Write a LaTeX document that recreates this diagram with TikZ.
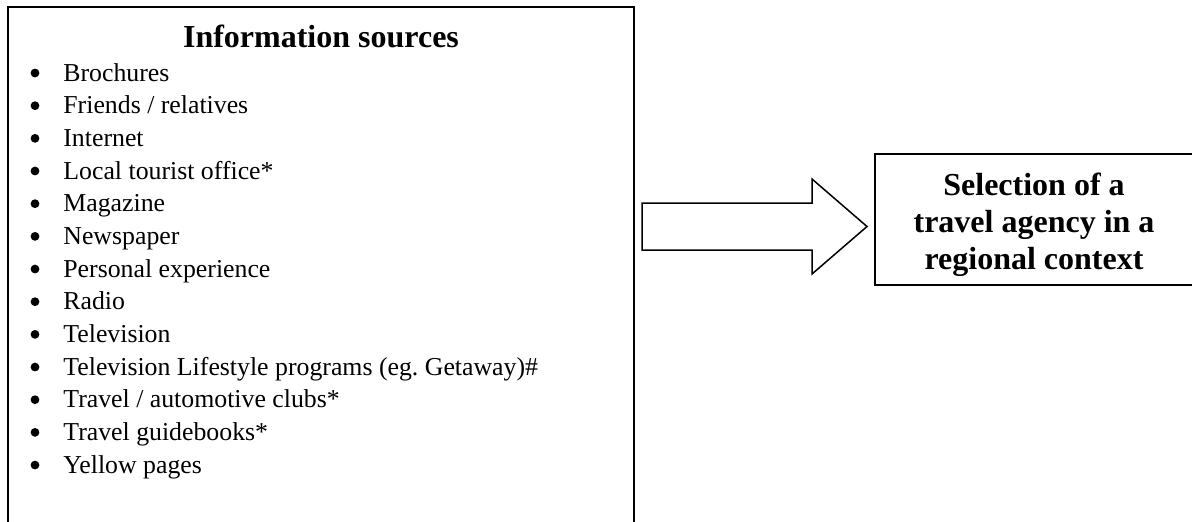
\documentclass[tikz,border=0pt]{standalone}
\usepackage{fontspec}
\setmainfont{Liberation Serif}
\frenchspacing
\begin{document}
\begin{tikzpicture}[x=0.5pt,y=-0.5pt,
  frame/.style={draw=black,line width=1pt},
  item/.style={anchor=base west,inner sep=0pt,font=\fontsize{12.9}{14}\selectfont},
  bul/.style={circle,fill=black,inner sep=0pt,minimum size=4.4pt},
  heading/.style={anchor=base,inner sep=0pt,font=\fontsize{16}{19}\selectfont\bfseries},
  targettext/.style={anchor=base,inner sep=0pt,font=\fontsize{16}{19}\selectfont\bfseries},
  blockarrow/.style={draw=black,line width=0.75pt,fill=white,line join=miter}]
\useasboundingbox (0,0) rectangle (1192,521);
% left box (open at the bottom, runs off the page)
\draw[frame] (8,540) -- (8,7) -- (634,7) -- (634,540);
\node[heading] (title) at (321,47) {Information sources};
\foreach [count=\i] \t in {{Brochures},{Friends / relatives},{Internet},{Local tourist office*},{Magazine},{Newspaper},{Personal experience},{Radio},{Television},{Television Lifestyle programs (eg. Getaway)\#},{Travel / automotive clubs*},{Travel guidebooks*},{Yellow pages}} {
  \pgfmathsetmacro\yy{81+32.67*(\i-1)}
  \node[bul] (b\i) at (35,\yy-8) {};
  \node[item] (i\i) at (63,\yy) {\t};
}
% block arrow
\draw[blockarrow] (642,203) -- (812,203) -- (812,179) -- (867,226.5) -- (812,274) -- (812,250) -- (642,250) -- cycle;
% right box
\draw[frame] (1196,154) -- (875,154) -- (875,285) -- (1196,285);
\node[targettext] (t1) at (1034,195) {Selection of a};
\node[targettext] (t2) at (1034,232) {travel agency in a};
\node[targettext] (t3) at (1034,269) {regional context};
\end{tikzpicture}
\end{document}
